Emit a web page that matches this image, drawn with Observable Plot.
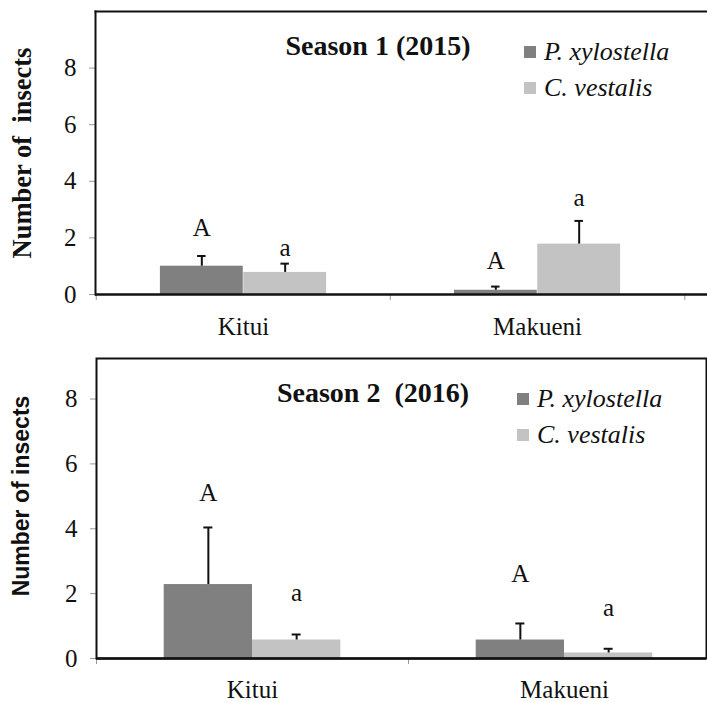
<!DOCTYPE html>
<html><head><meta charset="utf-8">
<script src="https://cdn.jsdelivr.net/npm/d3@7"></script>
<script src="https://cdn.jsdelivr.net/npm/@observablehq/plot@0.6"></script>
<style>
body{margin:0;background:#fff;}
#wrap{position:relative;width:707px;height:702px;overflow:hidden;font-family:"Liberation Serif","Times New Roman",serif;color:#111;background:#fff;}
.panel{position:absolute;left:0;}
.panel text{font-family:"Liberation Serif","Times New Roman",serif !important;}
.ov{position:absolute;white-space:pre;line-height:1;}
.title{font-weight:bold;font-size:28px;transform:translate(-50%,-50%);}
.ylab{transform:translate(-50%,-50%) rotate(-90deg);font-weight:bold;}
.legend{position:absolute;font-style:italic;font-size:26px;line-height:1;}
.legend .row{display:flex;align-items:center;height:36px;}
.legend .sw{width:12px;height:12px;margin-right:8px;}
</style></head><body><div id="wrap"></div>
<script>
// ---- data ----
const locations = ["Kitui", "Makueni"];
const species = ["P. xylostella", "C. vestalis"];
const colors = ["#808080", "#c3c3c3"];
const yTicks = [0, 2, 4, 6, 8];

// Season 1 (2015)
const s1Title = "Season 1 (2015)";
const s1Px = [1.0, 0.15];
const s1PxSE = [0.36, 0.13];
const s1Cv = [0.78, 1.78];
const s1CvSE = [0.31, 0.82];
const s1PxLetters = ["A", "A"];
const s1CvLetters = ["a", "a"];
const s1PxLetterY = [2.34, 1.2];
const s1CvLetterY = [1.65, 3.4];

// Season 2 (2016)
const s2Title = "Season 2  (2016)";
const s2Px = [2.28, 0.57];
const s2PxSE = [1.76, 0.51];
const s2Cv = [0.57, 0.17];
const s2CvSE = [0.17, 0.13];
const s2PxLetters = ["A", "A"];
const s2CvLetters = ["a", "a"];
const s2PxLetterY = [5.11, 2.62];
const s2CvLetterY = [2.02, 1.56];

const serif = "'Liberation Serif', 'Times New Roman', serif";

function rows(k, vals, ses, letters, labY) {
  return locations.map((loc, i) => ({loc, sp: species[k], value: vals[i], se: ses[i], letter: letters[i], labY: labY[i]}));
}

function panel({height, marginTop, marginBottom, marginRight, xRange, yMax, fullFrame, px, cv, labelPad}) {
  const bw = (xRange[1] - xRange[0]) / locations.length;
  const f = 0.283;
  const half = bw * f / 2;
  const capIn = (bw - 9) / 2;
  const marks = [];
  const sets = [[px, -half, bw * (0.5 - f), bw * 0.5], [cv, half, bw * 0.5, bw * (0.5 - f)]];
  for (const [data, dx, il, ir] of sets) {
    marks.push(Plot.barY(data, {x: "loc", y: "value", fill: "sp", insetLeft: il, insetRight: ir}));
  }
  for (const [data, dx] of sets) {
    marks.push(Plot.ruleX(data, {x: "loc", y1: "value", y2: d => d.value + d.se, dx, stroke: "#111", strokeWidth: 2}));
    marks.push(Plot.tickY(data, {x: "loc", y: d => d.value + d.se, dx, insetLeft: capIn, insetRight: capIn, stroke: "#111", strokeWidth: 2}));
    marks.push(Plot.text(data, {x: "loc", y: "labY", text: "letter", dx, fontSize: 25, fontFamily: serif, fill: "#111"}));
  }
  marks.push(Plot.axisY(yTicks, {tickSize: 6, tickPadding: 13, stroke: "#999", fill: "#111", fontSize: 25, fontFamily: serif, label: null}));
  marks.push(Plot.axisX({tickSize: 0, tickPadding: labelPad, fontSize: 25, fontFamily: serif, fill: "#111", label: null}));
  marks.push(Plot.axisX(locations, {tickSize: 6, dx: -bw / 2, stroke: "#999", tickFormat: () => "", label: null}));
  marks.push(Plot.axisX([locations[locations.length - 1]], {tickSize: 6, dx: bw / 2, stroke: "#999", tickFormat: () => "", label: null}));
  if (fullFrame) {
    marks.push(Plot.frame({stroke: "#111", strokeWidth: 2}));
  } else {
    marks.push(Plot.frame({anchor: "top", stroke: "#111", strokeWidth: 2}));
    marks.push(Plot.frame({anchor: "left", stroke: "#111", strokeWidth: 2}));
  }
  marks.push(Plot.ruleY([0], {stroke: "#111", strokeWidth: 2.5}));
  return Plot.plot({
    width: 707, height, marginTop, marginBottom, marginLeft: xRange[0], marginRight,
    style: {fontFamily: serif, fontSize: "25px", color: "#111", background: "transparent", overflow: "visible"},
    x: {domain: locations, range: xRange, padding: 0},
    y: {domain: [0, yMax], range: [height - marginBottom, marginTop]},
    color: {domain: species, range: colors},
    marks
  });
}

const wrap = document.getElementById("wrap");

const p1 = panel({height: 340, marginTop: 11, marginBottom: 46, marginRight: 0, xRange: [95, 684], yMax: 10, fullFrame: false, labelPad: 23,
  px: rows(0, s1Px, s1PxSE, s1PxLetters, s1PxLetterY), cv: rows(1, s1Cv, s1CvSE, s1CvLetters, s1CvLetterY)});
p1.classList.add("panel"); p1.style.top = "0px";
wrap.appendChild(p1);

const p2 = panel({height: 362, marginTop: 18, marginBottom: 44, marginRight: 1, xRange: [96, 720], yMax: 9.25, fullFrame: true, labelPad: 22,
  px: rows(0, s2Px, s2PxSE, s2PxLetters, s2PxLetterY), cv: rows(1, s2Cv, s2CvSE, s2CvLetters, s2CvLetterY)});
p2.classList.add("panel"); p2.style.top = "340px";
wrap.appendChild(p2);

function addDiv(cls, text, css) {
  const d = document.createElement("div");
  d.className = cls; d.textContent = text;
  Object.assign(d.style, css);
  wrap.appendChild(d);
  return d;
}
addDiv("ov title", s1Title, {left: "378px", top: "46px"});
addDiv("ov title", s2Title, {left: "373px", top: "393px"});
addDiv("ov ylab", "Number of  insects", {left: "22px", top: "153px", fontSize: "26.5px"});
addDiv("ov ylab", "Number of insects", {left: "21px", top: "496px", fontSize: "23px", fontFamily: "'Liberation Sans', Arial, sans-serif"});

function legend(left, top) {
  const lg = document.createElement("div");
  lg.className = "legend";
  lg.style.left = left + "px"; lg.style.top = top + "px";
  species.forEach((s, i) => {
    const r = document.createElement("div"); r.className = "row";
    const sw = document.createElement("div"); sw.className = "sw"; sw.style.background = colors[i];
    const t = document.createElement("span"); t.textContent = s;
    r.appendChild(sw); r.appendChild(t); lg.appendChild(r);
  });
  wrap.appendChild(lg);
}
legend(524, 34);
legend(517, 381);
</script></body></html>
